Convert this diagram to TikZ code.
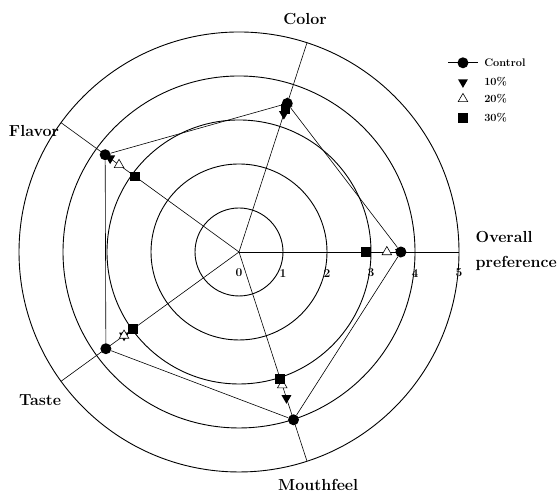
\documentclass[tikz,border=0pt]{standalone}
\usepackage{tikz}
\usetikzlibrary{shapes.geometric}
\tikzset{
    ring/.style={draw=black, line width=0.9pt},
    spoke/.style={draw=black, line width=0.6pt},
    ctrl/.style={circle, fill=black, inner sep=0pt, minimum size=11pt},
    pctten/.style={regular polygon, regular polygon sides=3, shape border rotate=180,
        fill=black, inner sep=0pt, minimum size=11.5pt},
    pcttwenty/.style={regular polygon, regular polygon sides=3, draw=black, fill=white,
        line width=0.6pt, inner sep=0pt, minimum size=11pt},
    pctthirty/.style={rectangle, fill=black, inner sep=0pt, minimum size=9.5pt},
    axlabel/.style={font=\fontsize{16}{25}\selectfont\bfseries},
    ticklabel/.style={font=\fontsize{12}{14}\selectfont\bfseries, inner sep=0pt},
    legtext/.style={font=\fontsize{11}{13}\selectfont\bfseries, anchor=west, inner sep=0pt}
}

\begin{document}
\begin{tikzpicture}[x=44pt, y=44pt]
\useasboundingbox (-5.432,-5.5) rectangle (7.25,5.727);
\coordinate (o) at (0,0);
% rings
\draw[style={ring}] (o) circle (1);
\draw[style={ring}] (o) circle (2);
\draw[style={ring}] (o) circle (3);
\draw[style={ring}] (o) circle (4);
\draw[style={ring}] (o) circle (5);
% spokes
\coordinate (ax-col) at (72:5);
\coordinate (ax-ovr) at (0:5);
\coordinate (ax-mou) at (-72:5);
\coordinate (ax-tas) at (216:5);
\coordinate (ax-fla) at (144:5);
\draw[style={spoke}] (o) -- (ax-col);
\draw[style={spoke}] (o) -- (ax-ovr);
\draw[style={spoke}] (o) -- (ax-mou);
\draw[style={spoke}] (o) -- (ax-tas);
\draw[style={spoke}] (o) -- (ax-fla);
% scale
\node[ticklabel] (t0) at (0,-0.48) {0};
\node[ticklabel] (t1) at (1,-0.48) {1};
\node[ticklabel] (t2) at (2,-0.48) {2};
\node[ticklabel] (t3) at (3,-0.48) {3};
\node[ticklabel] (t4) at (4,-0.48) {4};
\node[ticklabel] (t5) at (5,-0.48) {5};
% axis names
\node[axlabel] (l-col) at (1.5,5.3) {Color};
\node[axlabel, anchor=west, align=left] (l-ovr) at (5.3,0.02) {Overall\\preference};
\node[axlabel] (l-mou) at (1.8,-5.3) {Mouthfeel};
\node[axlabel] (l-tas) at (-4.52,-3.36) {Taste};
\node[axlabel] (l-fla) at (-4.66,2.75) {Flavor};
% 10%
\node[pctten] (a-col) at (72:3.3) {};
\node[pctten] (a-ovr) at (0:3.66) {};
\node[pctten] (a-mou) at (-72:3.49) {};
\node[pctten] (a-tas) at (216:3.23) {};
\node[pctten] (a-fla) at (144:3.62) {};
% 20%
\node[pcttwenty] (b-col) at (72:3.55) {};
\node[pcttwenty] (b-ovr) at (0:3.36) {};
\node[pcttwenty] (b-mou) at (-72:3.18) {};
\node[pcttwenty] (b-tas) at (216:3.23) {};
\node[pcttwenty] (b-fla) at (144:3.37) {};
% 30%
\node[pctthirty] (d-col) at (72:3.42) {};
\node[pctthirty] (d-ovr) at (0:2.89) {};
\node[pctthirty] (d-mou) at (-72:3.03) {};
\node[pctthirty] (d-tas) at (216:2.98) {};
\node[pctthirty] (d-fla) at (144:2.92) {};
% control
\node[ctrl] (c-col) at (72:3.55) {};
\node[ctrl] (c-ovr) at (0:3.68) {};
\node[ctrl] (c-mou) at (-72:4.01) {};
\node[ctrl] (c-tas) at (216:3.74) {};
\node[ctrl] (c-fla) at (144:3.76) {};
\draw[style={spoke}] (c-col) -- (c-ovr) -- (c-mou) -- (c-tas) -- (c-fla) -- (c-col);
% legend
\coordinate (lg-l) at (4.75,4.30);
\coordinate (lg-r) at (5.43,4.30);
\draw[style={spoke}] (lg-l) -- (lg-r);
\node[ctrl] (lg-c) at (5.09,4.30) {};
\node[pctten] (lg-a) at (5.09,3.86) {};
\node[pcttwenty] (lg-b) at (5.09,3.48) {};
\node[pctthirty] (lg-d) at (5.09,3.05) {};
\node[legtext] (lt-c) at (5.57,4.30) {Control};
\node[legtext] (lt-a) at (5.57,3.86) {10\%};
\node[legtext] (lt-b) at (5.57,3.48) {20\%};
\node[legtext] (lt-d) at (5.57,3.05) {30\%};
\end{tikzpicture}
\end{document}
